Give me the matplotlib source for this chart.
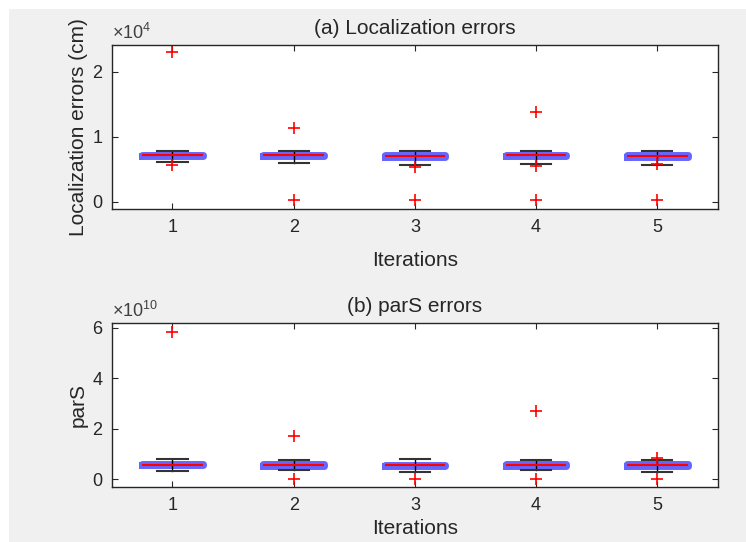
import numpy as np
import matplotlib
matplotlib.use("Agg")
import matplotlib.pyplot as plt
from matplotlib.ticker import FuncFormatter
from matplotlib.patches import Rectangle

plt.rcParams['font.family'] = ['Liberation Sans', 'DejaVu Sans']
plt.rcParams['mathtext.fontset'] = 'custom'
plt.rcParams['mathtext.rm'] = 'Liberation Sans'

iteraciones = [1, 2, 3, 4, 5]

# (a) errores de localizacion (cm)
loc_med = [7150, 7150, 7100, 7150, 7100]
loc_q1 = [7000, 7000, 6950, 7000, 6950]
loc_q3 = [7300, 7300, 7250, 7300, 7250]
loc_wlo = [6200, 6000, 5700, 5800, 5700]
loc_whi = [7900, 7900, 7900, 7900, 7900]
loc_out = [[23100, 5700], [11400, 300], [5400, 300], [13900, 5500, 300], [5800, 300]]

# (b) errores parS
par_med = [5.8e9, 5.7e9, 5.5e9, 5.7e9, 5.6e9]
par_q1 = [5.5e9, 5.4e9, 5.2e9, 5.4e9, 5.3e9]
par_q3 = [6.1e9, 6.0e9, 5.8e9, 6.0e9, 5.9e9]
par_wlo = [3.3e9, 3.6e9, 3.0e9, 3.6e9, 3.0e9]
par_whi = [8.0e9, 7.6e9, 8.0e9, 7.6e9, 7.6e9]
par_out = [[5.84e10], [1.71e10, 0.0], [0.0], [2.69e10, 0.0], [8.3e9, 0.0]]


def stats(med, q1, q3, wlo, whi, out):
    s = []
    for i in range(len(med)):
        s.append(dict(med=med[i], q1=q1[i], q3=q3[i], whislo=wlo[i], whishi=whi[i], fliers=out[i]))
    return s


fig = plt.figure(figsize=(7.46, 5.42), dpi=100)
fig.patch.set_facecolor('white')
fig.patches.append(Rectangle((9/746, -0.1), 1.2, 1.1 - 9/542, transform=fig.transFigure,
                             facecolor='#f0f0f0', edgecolor='none', zorder=-10))

ax1 = fig.add_axes([0.150, 0.6144, 0.8123, 0.3026])
ax2 = fig.add_axes([0.150, 0.1015, 0.8123, 0.3026])


def dibujar(ax, st, exp, titulo, ylab, ylim, yticks, xpad):
    ax.bxp(st, positions=iteraciones, widths=0.5, showfliers=True,
           boxprops=dict(color=(0.0, 0.0, 1.0, 0.6), linewidth=5),
           medianprops=dict(color='red', linewidth=1.5),
           whiskerprops=dict(color='black', linewidth=1),
           capprops=dict(color='#333333', linewidth=1.5),
           capwidths=0.25,
           flierprops=dict(marker='+', markeredgecolor='red', markersize=9, markeredgewidth=1.2))
    ax.set_xlim(0.5, 5.5)
    ax.set_ylim(*ylim)
    ax.set_xticks(iteraciones)
    ax.set_yticks(yticks)
    ax.yaxis.set_major_formatter(FuncFormatter(lambda v, p: '%g' % (v / 10**exp)))
    ax.tick_params(direction='in', top=True, right=True, length=4, colors='#262626',
                   labelsize=13, pad=7)
    for sp in ax.spines.values():
        sp.set_color('#262626')
        sp.set_linewidth(1.0)
    ax.set_title(titulo, fontsize=15, color='#262626', pad=8)
    ax.set_xlabel('Iterations', fontsize=15, color='#262626', labelpad=xpad)
    ax.set_ylabel(ylab, fontsize=15, color='#262626', labelpad=3)
    ax.text(0.0, 1.015, r'$\times\mathrm{10}^{\mathrm{%d}}$' % exp, transform=ax.transAxes,
            fontsize=13, color='#404040', ha='left', va='bottom')


dibujar(ax1, stats(loc_med, loc_q1, loc_q3, loc_wlo, loc_whi, loc_out), 4,
        '(a) Localization errors', 'Localization errors (cm)', (-1080, 24150), [0, 10000, 20000], 11)
dibujar(ax2, stats(par_med, par_q1, par_q3, par_wlo, par_whi, par_out), 10,
        '(b) parS errors', 'parS', (-0.305e10, 6.185e10), [0, 2e10, 4e10, 6e10], 4)

plt.savefig('out.png', dpi=100)
